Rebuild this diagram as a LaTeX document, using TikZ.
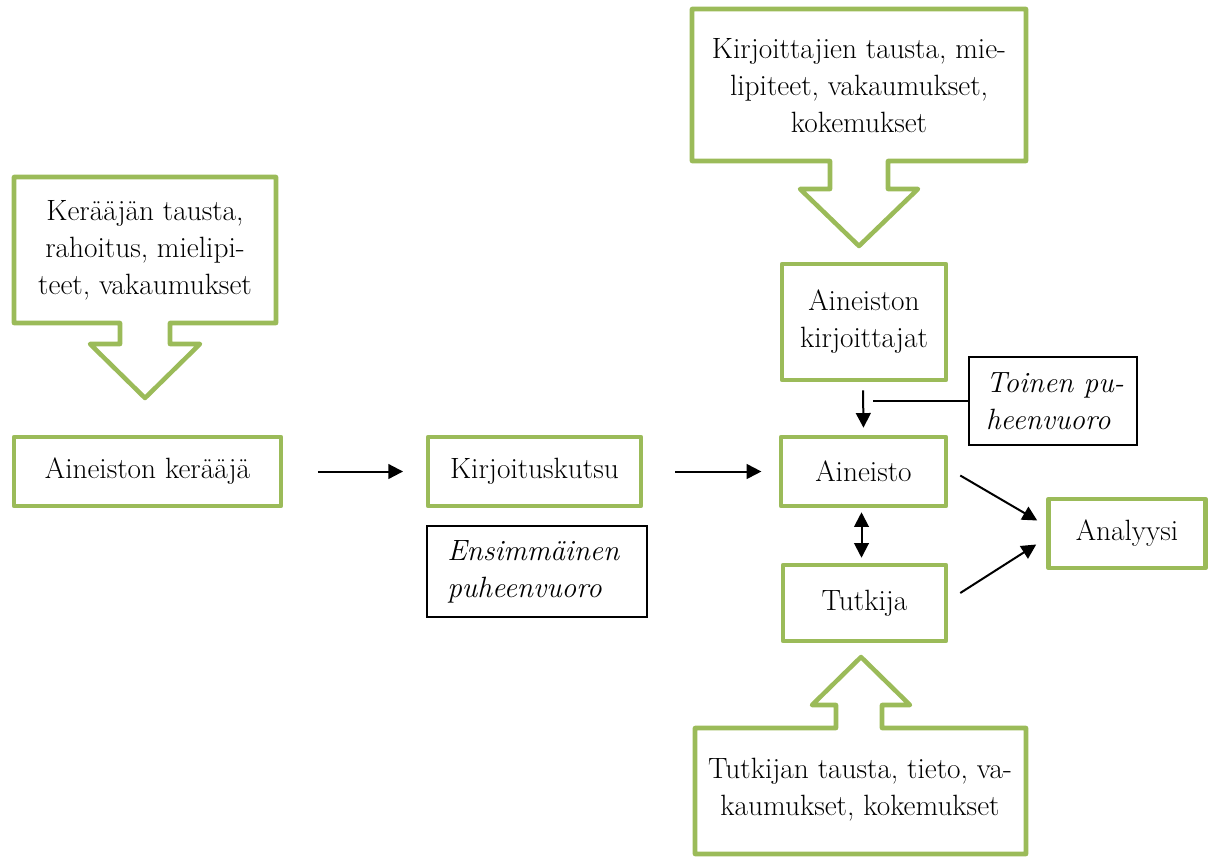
\documentclass[tikz,border=0pt]{standalone}
\usetikzlibrary{arrows.meta,calc}
\definecolor{ggreen}{RGB}{155,187,89}
\tikzset{
  gbox/.style={draw=ggreen, line width=3.4pt, line join=round, align=center, inner sep=0pt},
  nbox/.style={draw=black, line width=0.9pt, align=left, inner sep=0pt},
  callout/.style={draw=ggreen, line width=3.4pt, line join=round},
  sz/.style 2 args={minimum width=#1*0.75pt, minimum height=#2*0.75pt},
  arr/.style={-{Triangle[length=11pt,width=11pt]}, line width=1.5pt},
  darr/.style={{Triangle[length=11pt,width=11pt]}-{Triangle[length=11pt,width=11pt]}, line width=1.5pt},
  ctext/.style={align=center, inner sep=0pt},
}
\begin{document}
\begin{tikzpicture}[x=0.75pt,y=-0.75pt, every node/.style={font=\fontsize{22}{27.75}\selectfont}]
\useasboundingbox (0,0) rectangle (1210,858);

% callouts
\draw[callout] (120,323) -- (14,323) -- (14,177) -- (276,177) -- (276,323) -- (170,323)
  -- (170,344) -- (200,344) -- (145,398) -- (90,344) -- (120,344) -- cycle;
\node[ctext] (c1) at (145,250) {Kerääjän tausta,\\rahoitus, mielipi-\\teet, vakaumukset};

\draw[callout] (830,161) -- (692,161) -- (692,9) -- (1026,9) -- (1026,161) -- (888,161)
  -- (888,189) -- (918,189) -- (859,246) -- (800,189) -- (830,189) -- cycle;
\node[ctext] (c2) at (859,86) {Kirjoittajien tausta, mie-\\lipiteet, vakaumukset,\\kokemukset};

\draw[callout] (836,728) -- (695,728) -- (695,854) -- (1026,854) -- (1026,728) -- (882,728)
  -- (882,705) -- (910,705) -- (861,657) -- (812,705) -- (836,705) -- cycle;
\node[ctext] (c3) at (860,790) {Tutkijan tausta, tieto, va-\\kaumukset, kokemukset};

% boxes
\node[gbox, sz={267}{69}] (ker) at (147.5,471.5) {Aineiston kerääjä};
\node[gbox, sz={213}{69}] (kutsu) at (534.5,471.5) {Kirjoituskutsu};
\node[gbox, sz={164}{116}] (kirj) at (864,322) {Aineiston\\kirjoittajat};
\node[gbox, sz={165}{69}] (ain) at (863.5,471.5) {Aineisto};
\node[gbox, sz={163}{76}] (tut) at (864.5,603) {Tutkija};
\node[gbox, sz={157}{69}] (ana) at (1127,533.5) {Analyysi};

\node[nbox, sz={220}{91}] (ens) at (537,571.5) {};
\node[align=left, anchor=west, inner sep=0pt, font=\fontsize{22}{27.75}\selectfont\itshape] (enst) at (447,571.5) {Ensimmäinen\\puheenvuoro};
\node[nbox, sz={168}{88}] (toi) at (1053,401) {};
\node[align=left, inner sep=0pt, font=\fontsize{22}{27.75}\selectfont\itshape] (toit) at (1055,401) {Toinen pu-\\heenvuoro};

% connectors
\draw[arr, shorten <=26pt, shorten >=17pt] (ker.east) -- (kutsu.west);
\draw[arr, shorten <=24pt, shorten >=13pt] (kutsu.east) -- (ain.west);
\draw[arr] ($(kirj.south)+(-1,8)$) -- ($(ain.north)+(0,-7)$);
\coordinate (tj) at (873,401);
\draw[line width=1.5pt] (toi.west) -- (tj);
\draw[darr] ($(ain.south)+(-2,4)$) -- ($(tut.north)+(-3,-5)$);
\draw[arr] ($(ain.east)+(12,4)$) -- ($(ana.west)+(-9,-13)$);
\draw[arr] ($(tut.east)+(12,-10)$) -- ($(ana.west)+(-10,11)$);
\end{tikzpicture}
\end{document}
